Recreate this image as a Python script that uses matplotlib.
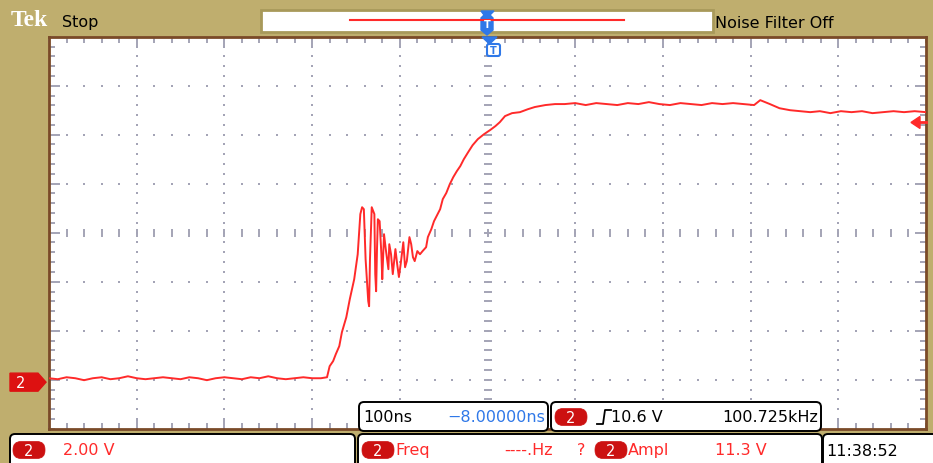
import matplotlib
matplotlib.use("Agg")
import matplotlib.pyplot as plt
from matplotlib.patches import FancyBboxPatch, Polygon, Rectangle
import numpy as np

W, H = 933, 464

# channel 2 trace: time (ns) vs voltage (V)
t_ns = [-500, -490, -480, -470, -460, -450, -440, -430, -420, -410, -400, -390,
        -380, -370, -360, -350, -340, -330, -320, -310, -300, -290, -280, -270,
        -260, -250, -240, -230, -220, -210, -200, -190, -183, -180, -176, -173,
        -169, -166, -161, -157, -152, -148, -145, -143, -141, -139, -136, -135,
        -134, -132, -129, -128, -127, -126, -125, -123, -121, -120, -118, -116,
        -113, -112, -110, -108, -105, -103, -101, -99, -96, -94, -92, -89, -87,
        -85, -83, -80, -77, -74, -70, -68, -64, -61, -58, -54, -51, -47, -43,
        -39, -35, -31, -27, -22, -17, -11, -4, 3, 9, 14, 20, 28, 37, 46, 54, 66,
        77, 88, 100, 112, 124, 136, 148, 160, 172, 184, 196, 208, 220, 232, 244,
        256, 268, 280, 292, 304, 311, 322, 333, 345, 356, 368, 379, 391, 403,
        415, 427, 439, 451, 463, 475, 487, 500]
volts = [0.16, 0.12, 0.20, 0.16, 0.08, 0.16, 0.20, 0.12, 0.16, 0.24, 0.16, 0.12,
         0.16, 0.20, 0.16, 0.12, 0.20, 0.16, 0.08, 0.16, 0.20, 0.16, 0.12, 0.20,
         0.16, 0.24, 0.16, 0.12, 0.16, 0.20, 0.16, 0.16, 0.20, 0.65, 0.86, 1.14,
         1.47, 2.04, 2.65, 3.39, 4.20, 5.22, 6.86, 7.14, 7.06, 5.02, 3.31, 3.10,
         5.02, 7.14, 6.86, 4.41, 3.71, 5.43, 6.65, 6.57, 5.22, 4.20, 6.04, 5.43,
         4.61, 5.63, 5.22, 4.41, 5.43, 4.82, 4.29, 4.82, 5.71, 4.69, 4.94, 5.92,
         5.63, 5.10, 4.94, 5.35, 5.22, 5.35, 5.51, 5.92, 6.25, 6.57, 6.78, 7.06,
         7.47, 7.72, 8.08, 8.37, 8.61, 8.82, 9.10, 9.39, 9.67, 9.92, 10.12, 10.29,
         10.45, 10.61, 10.86, 10.98, 11.02, 11.14, 11.23, 11.31, 11.35, 11.35,
         11.39, 11.31, 11.39, 11.35, 11.31, 11.39, 11.35, 11.43, 11.35, 11.31,
         11.39, 11.35, 11.31, 11.39, 11.35, 11.39, 11.35, 11.31, 11.51, 11.35,
         11.18, 11.10, 11.06, 11.02, 11.06, 10.98, 11.06, 11.02, 11.06, 10.98,
         11.02, 11.06, 11.02, 11.06, 11.02]

ns_per_div = 100
v_per_div = 2.0
gnd_div = 0.95          # ground marker height above bottom edge (divisions)
trig_level = 10.6

lbl_scale = "2.00 V"
lbl_time = "100ns"
lbl_pos = "\u22128.00000ns"
lbl_trig = "10.6 V"
lbl_trig_freq = "100.725kHz"
lbl_meas1 = ["Freq", "----.Hz", "?"]
lbl_meas2 = ["Ampl", "11.3 V"]
lbl_clock = "11:38:52"

tan = "#bfae6e"
red = "#ff2a2a"
badge_red = "#cc1111"
blue = "#2f78e8"
dotc = "#a4a4b6"
font = ["DejaVu Sans"]

fig = plt.figure(figsize=(W / 100, H / 100), dpi=100, facecolor=tan)

# graticule
x0, x1, y0, y1 = 49, 926, 37.7, 429.7
ax = fig.add_axes([x0 / W, 1 - y1 / H, (x1 - x0) / W, (y1 - y0) / H])
ax.set_facecolor("white")
xmin, xmax = -5 * ns_per_div, 5 * ns_per_div
ymin = -gnd_div * v_per_div
ymax = ymin + 8 * v_per_div
ax.set_xlim(xmin, xmax)
ax.set_ylim(ymin, ymax)
for s in ax.spines.values():
    s.set_color("#7a4a28")
    s.set_linewidth(2)

xs_minor = np.linspace(xmin, xmax, 51)
ys_minor = np.linspace(ymin, ymax, 41)
xs_major = xmin + np.arange(1, 10) * ns_per_div
ys_major = ymin + np.arange(1, 8) * v_per_div
xc, yc = 0.0, ymin + 4 * v_per_div
for xm in xs_major:
    if xm == xc:
        continue
    ax.scatter(np.full_like(ys_minor, xm), ys_minor, s=2.2, marker="s", color=dotc, lw=0, zorder=1)
for ym in ys_major:
    if abs(ym - yc) < 1e-9:
        continue
    ax.scatter(xs_minor, np.full_like(xs_minor, ym), s=2.2, marker="s", color=dotc, lw=0, zorder=1)
# center cross with tick marks
ax.scatter(np.full_like(ys_minor, xc), ys_minor, s=28, marker="_", color=dotc, lw=1.4, zorder=1)
ax.scatter(xs_minor, np.full_like(xs_minor, yc), s=28, marker="|", color=dotc, lw=1.4, zorder=1)

ax.set_xticks(xs_major)
ax.set_yticks(ys_major)
ax.set_xticks(xs_minor, minor=True)
ax.set_yticks(ys_minor, minor=True)
ax.tick_params(which="both", direction="in", top=True, right=True, color=dotc,
               labelbottom=False, labelleft=False, width=1.4)
ax.tick_params(which="major", length=8)
ax.tick_params(which="minor", length=4)

ax.plot(t_ns, volts, color=red, lw=1.4, zorder=3)

# overlay in pixel units
ov = fig.add_axes([0, 0, 1, 1])
ov.set_xlim(0, W)
ov.set_ylim(H, 0)
ov.axis("off")
ov.patch.set_alpha(0)


def box(xa, ya, xb, yb, fc="white", ec="black", lw=1.4, r=5):
    ov.add_patch(FancyBboxPatch((xa, ya), xb - xa, yb - ya,
                                boxstyle=f"round,pad=0,rounding_size={r}",
                                fc=fc, ec=ec, lw=lw))


def badge(xa, yc_, w=32, h=17):
    box(xa, yc_ - h / 2, xa + w, yc_ + h / 2, fc=badge_red, ec=badge_red, lw=0.5, r=8)
    ov.text(xa + w / 2, yc_ + 0.5, "2", color="white", fontsize=10.5, ha="center",
            va="center", family=font)


# top bar
ov.text(11, 21, "Tek", color="white", fontsize=17, fontweight="bold",
        family=["Liberation Serif", "DejaVu Serif"], va="center")
ov.text(62, 23, "Stop", color="black", fontsize=11.5, va="center", family=font)
ov.add_patch(Rectangle((261, 11), 452, 22, fc="white", ec="#a8995a", lw=2))
ov.plot([350, 624], [21, 21], color=red, lw=1.5)
ov.text(715, 23, "Noise Filter Off", color="black", fontsize=11.5, va="center", family=font)
# trigger position markers
ov.add_patch(Polygon([[481, 12], [494, 12], [490, 16], [493, 19], [493, 31], [487, 36],
                      [481, 31], [481, 19], [484, 16]], closed=True, fc=blue, ec=blue))
ov.text(487.5, 25, "T", color="white", fontsize=7, fontweight="bold", ha="center", va="center")
ov.add_patch(Polygon([[482, 38], [497, 38], [489.5, 45]], closed=True, fc=blue, ec=blue))
box(487, 45, 500, 57, fc="white", ec=blue, lw=1.5, r=2)
ov.text(493.5, 51, "T", color=blue, fontsize=7, fontweight="bold", ha="center", va="center")

# ground marker and trigger level arrow
gy = y1 - (0 - ymin) / (ymax - ymin) * (y1 - y0)
ov.add_patch(Polygon([[10, gy - 9], [38, gy - 9], [46, gy], [38, gy + 9], [10, gy + 9]],
                     closed=True, fc="#dd1111", ec="#dd1111"))
ov.text(21, gy + 0.5, "2", color="white", fontsize=10.5, ha="center", va="center", family=font)
ty = y1 - (trig_level - ymin) / (ymax - ymin) * (y1 - y0)
ov.add_patch(Polygon([[911, ty], [920, ty - 6], [920, ty + 6]], closed=True, fc=red, ec=red))
ov.plot([918, 926], [ty, ty], color=red, lw=2)

# readout boxes
box(359, 403, 548, 432)
ov.text(363, 418, lbl_time, color="black", fontsize=11.5, va="center", family=font)
ov.text(545, 418, lbl_pos, color=blue, fontsize=11.5, va="center", ha="right", family=font)
box(551, 403, 821, 432)
badge(555, 418)
ov.plot([597, 603, 605, 611], [425, 425, 411, 411], color="black", lw=1.3)
ov.text(611, 418, lbl_trig, color="black", fontsize=11.5, va="center", family=font)
ov.text(818, 418, lbl_trig_freq, color="black", fontsize=11.5, va="center", ha="right", family=font)

box(10, 435, 355, 475)
badge(13, 451)
ov.text(63, 451, lbl_scale, color=red, fontsize=11.5, va="center", family=font)
box(358, 435, 822, 475)
badge(362, 451)
ov.text(395, 451, lbl_meas1[0], color=red, fontsize=11.5, va="center", family=font)
ov.text(553, 451, lbl_meas1[1], color=red, fontsize=11.5, va="center", ha="right", family=font)
ov.text(577, 451, lbl_meas1[2], color=red, fontsize=11.5, va="center", family=font)
badge(595, 451)
ov.text(628, 451, lbl_meas2[0], color=red, fontsize=11.5, va="center", family=font)
ov.text(715, 451, lbl_meas2[1], color=red, fontsize=11.5, va="center", family=font)
box(823, 435, 945, 475)
ov.text(826, 452, lbl_clock, color="black", fontsize=11.5, va="center", family=font)

fig.savefig("out.png", dpi=100, facecolor=tan)
